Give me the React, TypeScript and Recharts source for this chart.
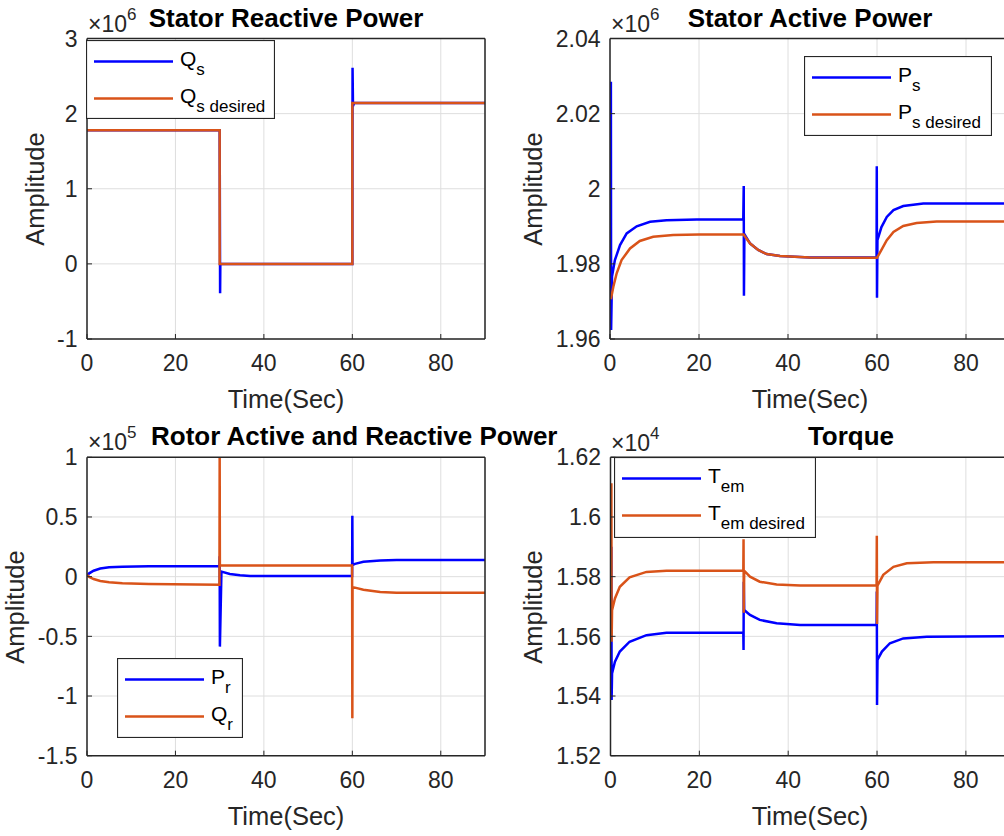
import React from 'react';
import { LineChart, Line, XAxis, YAxis, CartesianGrid, Legend } from 'recharts';

const BLUE = '#0000ff';
const ORANGE = '#d95319';
const AXIS = '#262626';
const GRID = '#dedede';
const FONT = '"Liberation Sans", Arial, Helvetica, sans-serif';

const timeTicks = [0, 20, 40, 60, 80];

// Stator reactive power, x1e6
const qsT = [0, 30, 30.1, 30.15, 60, 60.05, 60.15, 60.4, 90];
const qsV = [1.78, 1.78, -0.39, 0, 0, 2.61, 2.1, 2.14, 2.14];
const qsRefT = [0, 30, 30, 60, 60, 90];
const qsRefV = [1.78, 1.78, 0, 0, 2.14, 2.14];
const qsTicks = [-1, 0, 1, 2, 3];

// Stator active power, x1e6
const psT = [0.2, 0.25, 0.45, 1.1, 2.25, 3.75, 6, 9, 12.7, 19.5, 29.95, 30.05, 30.1, 30.2, 31.5, 33.3, 35.2, 38.2, 44.9, 59.9, 59.95, 60.0, 60.1, 61.0, 62.2, 63.7, 65.9, 70.4, 90];
const psV = [2.0285, 1.9624, 1.9766, 1.981, 1.985, 1.9881, 1.99, 1.9912, 1.9916, 1.9918, 1.9918, 2.0007, 1.9715, 1.9879, 1.9854, 1.9837, 1.9826, 1.9821, 1.9817, 1.9817, 2.006, 1.971, 1.9863, 1.9898, 1.9925, 1.9943, 1.9954, 1.9961, 1.9961];
const psRefT = [0.2, 0.75, 1.5, 2.6, 4.5, 6.7, 9.7, 14.2, 20, 30, 31.5, 33.3, 35.2, 38.2, 44.9, 60, 61.0, 62.2, 63.7, 65.9, 68.9, 73.4, 90];
const psRefV = [1.9706, 1.9739, 1.9775, 1.981, 1.9841, 1.9861, 1.9872, 1.9877, 1.9878, 1.9878, 1.9854, 1.9837, 1.9826, 1.9821, 1.9817, 1.9816, 1.9837, 1.9863, 1.9885, 1.9901, 1.9909, 1.9913, 1.9913];
const psTicks = [1.96, 1.98, 2, 2.02, 2.04];

// Rotor active / reactive power, x1e5
const prT = [0, 0.5, 1.5, 3, 5, 8, 14, 29.95, 30.0, 30.05, 30.4, 32.3, 34.6, 36.9, 59.95, 60.0, 60.05, 60.6, 62.5, 66.3, 70, 90];
const prV = [0.005, 0.028, 0.05, 0.068, 0.078, 0.084, 0.087, 0.087, 0.17, -0.586, 0.042, 0.022, 0.011, 0.006, 0.006, 0.51, 0.098, 0.107, 0.124, 0.135, 0.14, 0.14];
const qrT = [0, 0.5, 1.5, 3, 5, 8, 14, 29.95, 30, 30.05, 59.95, 60, 60.05, 60.6, 62.5, 66.3, 70, 90];
const qrV = [0.015, -0.002, -0.02, -0.036, -0.047, -0.055, -0.062, -0.068, 1.0, 0.095, 0.093, -1.186, -0.089, -0.092, -0.11, -0.128, -0.134, -0.134];
const rotorTicks = [-1.5, -1, -0.5, 0, 0.5, 1];

// Torque, x1e4
const temT = [0.2, 0.25, 0.35, 1.0, 2.1, 4.3, 8.1, 12.6, 29.9, 29.95, 30.0, 30.1, 31.4, 33.6, 37.4, 42.7, 59.9, 59.95, 60.0, 60.1, 61.1, 62.9, 65.9, 71.2, 90];
const temV = [1.59, 1.5387, 1.5476, 1.5515, 1.5549, 1.5582, 1.5604, 1.5612, 1.5612, 1.5554, 1.5783, 1.5688, 1.5672, 1.5655, 1.5644, 1.5638, 1.5638, 1.575, 1.537, 1.5521, 1.5549, 1.5577, 1.5593, 1.5599, 1.56];
const temRefT = [0.2, 0.25, 0.35, 1.0, 2.1, 4.3, 8.1, 12.6, 29.9, 29.95, 30.0, 30.1, 31.4, 33.6, 37.4, 42.7, 59.9, 59.95, 60.0, 60.1, 61.4, 63.7, 66.7, 72.7, 90];
const temRefV = [1.6113, 1.5582, 1.5688, 1.5727, 1.5766, 1.5798, 1.5816, 1.582, 1.582, 1.5925, 1.5679, 1.582, 1.58, 1.5783, 1.5774, 1.577, 1.577, 1.5937, 1.5641, 1.577, 1.5806, 1.5833, 1.5845, 1.5848, 1.5848];
const temTicks = [1.52, 1.54, 1.56, 1.58, 1.6, 1.62];

const zip = (t: number[], v: number[]) => t.map((x, i) => ({ t: x, v: v[i] }));

type Series = { name: string; color: string; data: { t: number; v: number }[] };

function BoxLegend({ payload, labels, w, h }: any) {
  const rows = [21.5, 58.5];
  return (
    <svg width={w} height={h} style={{ display: 'block' }}>
      <rect x={0.5} y={0.5} width={w - 1} height={h - 1} fill="#fff" stroke={AXIS} strokeWidth={1.2} />
      {(payload || []).map((p: any, i: number) => (
        <g key={i}>
          <line x1={8} x2={87} y1={rows[i]} y2={rows[i]} stroke={p.color} strokeWidth={2.5} />
          <text x={94} y={rows[i] + 4} fontSize={21} fill="#000" fontFamily={FONT}>
            {labels[i][0]}
            <tspan fontSize={17} dy={9}>{labels[i][1]}</tspan>
          </text>
        </g>
      ))}
    </svg>
  );
}

function Panel(props: any) {
  const { left, top, width, height, margin, yWidth, domain, ticks, series, labels, legendBox } = props;
  const tickStyle = { fontSize: 23, fill: AXIS, fontFamily: FONT };
  return (
    <div style={{ position: 'absolute', left, top }}>
      <LineChart width={width} height={height} margin={margin}>
        <CartesianGrid stroke={GRID} strokeWidth={1} />
        <XAxis type="number" dataKey="t" domain={[0, 90]} ticks={timeTicks} interval={0} allowDataOverflow
          height={40} tick={tickStyle} tickSize={-5} tickMargin={21}
          axisLine={{ stroke: AXIS, strokeWidth: 1.5 }} tickLine={{ stroke: AXIS }} />
        <XAxis xAxisId="top" orientation="top" type="number" domain={[0, 90]} ticks={timeTicks} interval={0}
          height={1} tickFormatter={() => ''} tickSize={-5}
          axisLine={{ stroke: AXIS, strokeWidth: 1.5 }} tickLine={{ stroke: AXIS }} />
        <YAxis type="number" domain={domain} ticks={ticks} interval={0} allowDataOverflow width={yWidth}
          tick={tickStyle} tickSize={-5} tickMargin={14.5}
          axisLine={{ stroke: AXIS, strokeWidth: 1.5 }} tickLine={{ stroke: AXIS }} />
        <YAxis yAxisId="right" orientation="right" type="number" domain={domain} ticks={ticks} interval={0}
          width={1} tickFormatter={() => ''} tickSize={-5}
          axisLine={{ stroke: AXIS, strokeWidth: 1.5 }} tickLine={{ stroke: AXIS }} />
        {series.map((s: Series) => (
          <Line key={s.name} data={s.data} dataKey="v" name={s.name} type="linear" stroke={s.color}
            strokeWidth={2.5} dot={false} activeDot={false} isAnimationActive={false} />
        ))}
        <Legend layout="vertical" align="center" verticalAlign="middle"
          wrapperStyle={{ left: legendBox.x, top: legendBox.y, width: legendBox.w, height: legendBox.h }}
          content={(p: any) => <BoxLegend payload={p.payload} labels={labels} w={legendBox.w} h={legendBox.h} />} />
      </LineChart>
    </div>
  );
}

function Exponent({ x, y, power }: { x: number; y: number; power: string }) {
  return (
    <text x={x} y={y} fontSize={23} fill={AXIS}>
      ×10<tspan fontSize={17} dy={-12}>{power}</tspan>
    </text>
  );
}

export default function App() {
  return (
    <div style={{ position: 'absolute', left: 0, top: 0, width: 1004, height: 836, overflow: 'hidden', background: '#fff', fontFamily: FONT }}>
      <Panel left={0} top={0} width={500} height={420}
        margin={{ top: 37.5, right: 14, bottom: 41, left: 27 }} yWidth={60}
        domain={[-1, 3]} ticks={qsTicks}
        series={[
          { name: 'Qs', color: BLUE, data: zip(qsT, qsV) },
          { name: 'Qs desired', color: ORANGE, data: zip(qsRefT, qsRefV) },
        ]}
        labels={[['Q', 's'], ['Q', 's desired']]}
        legendBox={{ x: 86, y: 40, w: 189, h: 79 }} />
      <Panel left={500} top={0} width={530} height={420}
        margin={{ top: 37.5, right: 18.5, bottom: 41, left: 40 }} yWidth={70}
        domain={[1.96, 2.04]} ticks={psTicks}
        series={[
          { name: 'Ps', color: BLUE, data: zip(psT, psV) },
          { name: 'Ps desired', color: ORANGE, data: zip(psRefT, psRefV) },
        ]}
        labels={[['P', 's'], ['P', 's desired']]}
        legendBox={{ x: 304, y: 56, w: 188, h: 80 }} />
      <Panel left={0} top={420} width={500} height={416}
        margin={{ top: 36.3, right: 14, bottom: 40.3, left: 27 }} yWidth={60}
        domain={[-1.5, 1]} ticks={rotorTicks}
        series={[
          { name: 'Pr', color: BLUE, data: zip(prT, prV) },
          { name: 'Qr', color: ORANGE, data: zip(qrT, qrV) },
        ]}
        labels={[['P', 'r'], ['Q', 'r']]}
        legendBox={{ x: 117, y: 238, w: 126, h: 80 }} />
      <Panel left={500} top={420} width={530} height={416}
        margin={{ top: 36.3, right: 18.7, bottom: 40.3, left: 40.5 }} yWidth={70}
        domain={[1.52, 1.62]} ticks={temTicks}
        series={[
          { name: 'Tem', color: BLUE, data: zip(temT, temV) },
          { name: 'Tem desired', color: ORANGE, data: zip(temRefT, temRefV) },
        ]}
        labels={[['T', 'em'], ['T', 'em desired']]}
        legendBox={{ x: 114, y: 37, w: 202, h: 81 }} />

      <svg width={1004} height={836} style={{ position: 'absolute', left: 0, top: 0, pointerEvents: 'none' }} fontFamily={FONT}>
        <Exponent x={88} y={31.5} power="6" />
        <Exponent x={611} y={31.5} power="6" />
        <Exponent x={88} y={449.5} power="5" />
        <Exponent x={611} y={450.5} power="4" />

        <text x={286} y={27} textAnchor="middle" fontSize={26} fontWeight="bold" fill="#000">Stator Reactive Power</text>
        <text x={810} y={27} textAnchor="middle" fontSize={26} fontWeight="bold" fill="#000">Stator Active Power</text>
        <text x={151} y={445} fontSize={26} fontWeight="bold" fill="#000">Rotor Active and Reactive Power</text>
        <text x={851} y={445} textAnchor="middle" fontSize={26} fontWeight="bold" fill="#000">Torque</text>

        <text x={286} y={407.5} textAnchor="middle" fontSize={25.5} fill={AXIS}>Time(Sec)</text>
        <text x={810} y={407.5} textAnchor="middle" fontSize={25.5} fill={AXIS}>Time(Sec)</text>
        <text x={286} y={825} textAnchor="middle" fontSize={25.5} fill={AXIS}>Time(Sec)</text>
        <text x={810} y={825} textAnchor="middle" fontSize={25.5} fill={AXIS}>Time(Sec)</text>

        <text transform="translate(44 189) rotate(-90)" textAnchor="middle" fontSize={25.5} fill={AXIS}>Amplitude</text>
        <text transform="translate(541.5 189) rotate(-90)" textAnchor="middle" fontSize={25.5} fill={AXIS}>Amplitude</text>
        <text transform="translate(23.5 607) rotate(-90)" textAnchor="middle" fontSize={25.5} fill={AXIS}>Amplitude</text>
        <text transform="translate(541.5 607) rotate(-90)" textAnchor="middle" fontSize={25.5} fill={AXIS}>Amplitude</text>
      </svg>
    </div>
  );
}
